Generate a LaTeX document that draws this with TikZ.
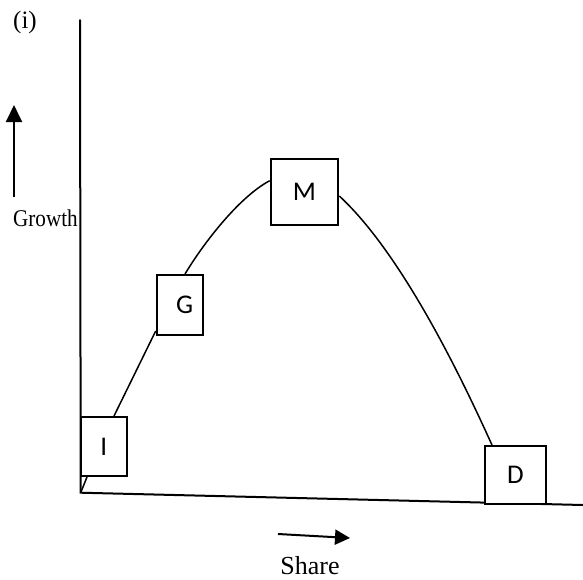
\documentclass[tikz,border=0pt]{standalone}
\usepackage{fontspec}
\setmainfont{Liberation Serif}
\newfontfamily\boxfont{Carlito}
\usetikzlibrary{arrows.meta,calc}
\tikzset{
  axis/.style={line width=2pt, line cap=round},
  curveline/.style={line width=1.5pt},
  stagebox/.style={draw, line width=2pt, fill=white, inner sep=0pt, font=\boxfont\fontsize{27}{30}\selectfont},
  pointer/.style={line width=2pt, -{Triangle[width=16pt,length=17pt]}},
  serif/.style={inner sep=0pt, font=\fontsize{25}{30}\selectfont}
}
\begin{document}
\begin{tikzpicture}[x=1pt,y=-1pt]
\useasboundingbox (0,0) rectangle (583,579);
% axes
\coordinate (top) at (80,20);
\coordinate (O) at (80.7,492.7);
\coordinate (xend) at (583,505);
\draw[axis] (top) -- (O) -- (xend);
% stage boxes
\node[stagebox, minimum width=46pt, minimum height=59pt] (I) at (103.7,446.5) {I};
\node[stagebox, minimum width=46pt, minimum height=60pt] (G) at (179.7,305) {\hspace*{10pt}G};
\node[stagebox, minimum width=67.6pt, minimum height=66pt] (M) at (304.5,192) {M};
\node[stagebox, minimum width=61pt, minimum height=58pt] (D) at (515.5,475) {D};
% life-cycle curve
\coordinate (i1) at ($(I.south west)+(7.3,0)$);
\coordinate (i2) at ($(I.north west)+(34.3,0)$);
\coordinate (g1) at ($(G.south west)+(0,-5)$);
\coordinate (g2) at ($(G.north west)+(29.3,0)$);
\coordinate (m1) at ($(M.north west)+(0,22.7)$);
\coordinate (m2) at ($(M.north east)+(0,38)$);
\coordinate (d1) at ($(D.north west)+(8,0)$);
\draw[curveline] (O) -- (i1);
\draw[curveline] (i2) -- (g1);
\draw[curveline] (g2) .. controls ($(g2)+(18,-30)$) and ($(m1)+(-31,16.5)$) .. (m1);
\draw[curveline] (m2) .. controls ($(m2)+(66,61)$) and ($(d1)+(-25,-55)$) .. (d1);
% direction arrows
\coordinate (ga1) at (14,197);
\coordinate (ga2) at (14,105);
\draw[pointer] (ga1) -- (ga2);
\coordinate (sa1) at (278,534);
\coordinate (sa2) at (350,538);
\draw[line width=2pt, -{Triangle[width=15pt,length=15pt]}] (sa1) -- (sa2);
% texts
\node[serif] (lbl) at (25,22) {(i)};
\node[inner sep=0pt, anchor=base west, xscale=0.88, font=\fontsize{24}{28}\selectfont] (growth) at (13,226) {Growth};
\node[serif, anchor=base, font=\fontsize{26}{30}\selectfont] (share) at (310,574) {Share};
\end{tikzpicture}
\end{document}
